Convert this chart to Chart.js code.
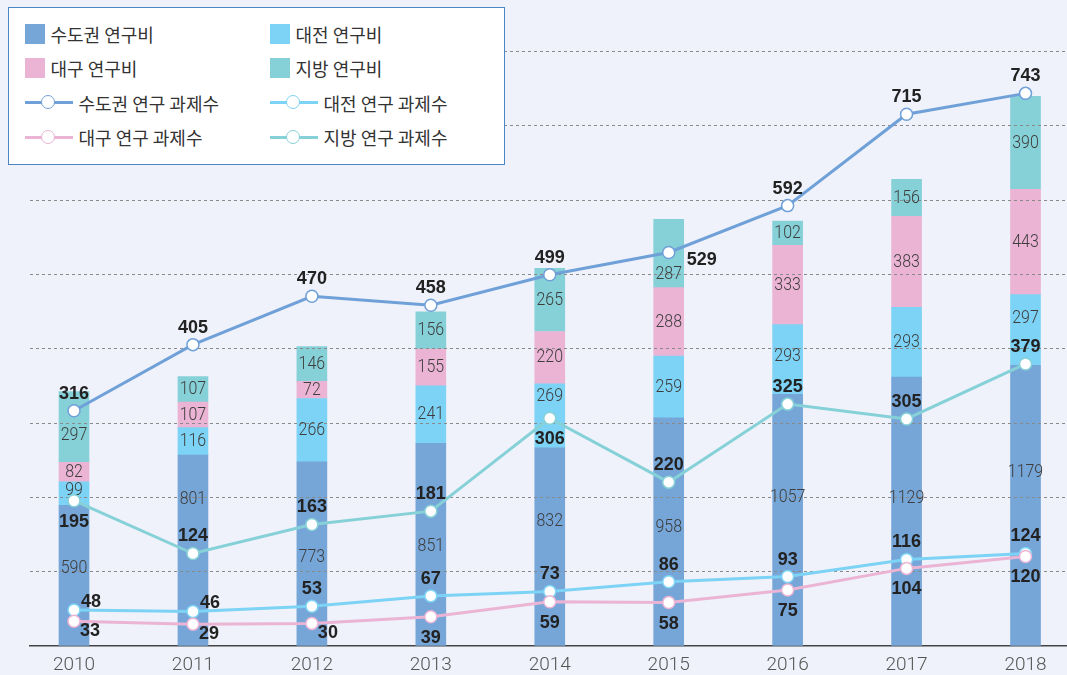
<!DOCTYPE html>
<html><head><meta charset="utf-8">
<script src="https://cdn.jsdelivr.net/npm/chart.js@4"></script>
<style>
html,body{margin:0;padding:0;background:#eff2fa;overflow:hidden}
#wrap{position:relative;width:1075px;height:675px}
#legend{position:absolute;left:8px;top:7px;width:497px;height:158px;background:#fff;border:1.5px solid #4a86c5;box-sizing:border-box;font-family:"Noto Sans CJK KR","Noto Sans",sans-serif;font-size:18px;color:#333}
.item{position:absolute;display:flex;align-items:center;height:24px;white-space:nowrap}
.sw{width:20px;height:20px;margin-right:6px;flex:none}
.ln{position:relative;width:48px;height:3px;margin-right:6px;flex:none}
.ln i{position:absolute;left:16.5px;top:-6px;width:12px;height:12px;border-radius:50%;background:#fff;border:1.5px solid}
</style></head>
<body>
<div id="wrap"><canvas id="c"></canvas><div id="legend"></div></div>
<script>
// ---- data ----
const years = [2010, 2011, 2012, 2013, 2014, 2015, 2016, 2017, 2018];
const capitalFunds  = [590, 801, 773, 851, 832, 958, 1057, 1129, 1179];
const daejeonFunds  = [99, 116, 266, 241, 269, 259, 293, 293, 297];
const daeguFunds    = [82, 107, 72, 155, 220, 288, 333, 383, 443];
const regionalFunds = [297, 107, 146, 156, 265, 287, 102, 156, 390];
const capitalProjects  = [316, 405, 470, 458, 499, 529, 592, 715, 743];
const daejeonProjects  = [48, 46, 53, 67, 73, 86, 93, 116, 124];
const daeguProjects    = [33, 29, 30, 39, 59, 58, 75, 104, 120];
const regionalProjects = [195, 124, 163, 181, 306, 220, 325, 305, 379];

// ---- styling (label placement) ----
const segLabelFrac = [
  [0.55, 0.77, 0.48, 0.49, 0.63, 0.52, 0.59, 0.55, 0.62],
  [0.65, 0.5, 0.5, 0.5, 0.8, 0.5, 0.55, 0.5, 0.66],
  [0.5, 0.5, 0.5, 0.5, 0.5, 0.5, 0.5, 0.5, 0.5],
  [0.38, 0.5, 0.5, 0.5, 0.5, 0.2, 0.5, 0.5, 0.5]
];
const linePlace = [
  ['up','up','up','up','up','right','up','up','up'],
  ['upright','upright','up','up','up','up','up','up','up'],
  ['downright','downright','downright','down','down','down','down','down','down'],
  ['down','up','up','up','down','up','up','up','up']
];
const placeOffset = {
  up: [0, -17], down: [0, 21], right: [33, 8], upright: [17, -8], downright: [16, 10]
};

const C = {
  blue: '#76a5d7', sky: '#7dd3f5', pink: '#ebb4d4', teal: '#86d1d8', blueLine: '#6fa0d8'
};

const barSets = [
  {label: '수도권 연구비', data: capitalFunds, color: C.blue},
  {label: '대전 연구비', data: daejeonFunds, color: C.sky},
  {label: '대구 연구비', data: daeguFunds, color: C.pink},
  {label: '지방 연구비', data: regionalFunds, color: C.teal}
];
const lineSets = [
  {label: '수도권 연구 과제수', data: capitalProjects, color: C.blueLine, order: 0},
  {label: '대전 연구 과제수', data: daejeonProjects, color: C.sky, order: 0},
  {label: '대구 연구 과제수', data: daeguProjects, color: C.pink, order: -1},
  {label: '지방 연구 과제수', data: regionalProjects, color: C.teal, order: 0}
];

const datasets = [];
barSets.forEach(s => datasets.push({
  type: 'bar', label: s.label, data: s.data, backgroundColor: s.color,
  yAxisID: 'y', barThickness: 30, order: 1, borderWidth: 0
}));
lineSets.forEach(s => datasets.push({
  type: 'line', label: s.label, data: s.data, borderColor: s.color, borderWidth: 3,
  pointBackgroundColor: '#fff', pointBorderColor: s.color, pointBorderWidth: 1.5,
  pointRadius: 6, yAxisID: 'y2', order: s.order, tension: 0, clip: false, fill: false
}));

function drawCondensed(ctx, text, x, y, sx) {
  ctx.save(); ctx.translate(x, y); ctx.scale(sx, 1); ctx.fillText(text, 0, 0); ctx.restore();
}

const labelPlugin = {
  id: 'labelPlugin',
  beforeDraw(chart) { chart.$gridDone = false; },
  beforeDatasetDraw(chart, args) {
    if (args.meta.type !== 'line' || chart.$gridDone) return;
    chart.$gridDone = true;
    const ctx = chart.ctx, ca = chart.chartArea, s = chart.scales.y2;
    ctx.save();
    ctx.strokeStyle = '#8a8a8a'; ctx.lineWidth = 1; ctx.setLineDash([3, 3]);
    s.ticks.forEach(t => {
      if (t.value === 0) return;
      const y = Math.round(s.getPixelForValue(t.value)) + 0.5;
      ctx.beginPath(); ctx.moveTo(ca.left, y); ctx.lineTo(ca.right, y); ctx.stroke();
    });
    ctx.restore();
    // segment labels
    ctx.save();
    ctx.font = '300 19px Roboto, "Liberation Sans", sans-serif';
    ctx.fillStyle = '#3d3d3d'; ctx.textAlign = 'center'; ctx.textBaseline = 'middle';
    barSets.forEach((bs, i) => {
      const meta = chart.getDatasetMeta(i);
      meta.data.forEach((el, j) => {
        const y = el.base - segLabelFrac[i][j] * (el.base - el.y);
        drawCondensed(ctx, String(bs.data[j]), el.x, y, 0.84);
      });
    });
    ctx.restore();
  },
  afterDatasetsDraw(chart) {
    const ctx = chart.ctx;
    ctx.save();
    ctx.font = 'bold 18px "Liberation Sans", Arial, sans-serif';
    ctx.fillStyle = '#222'; ctx.textAlign = 'center'; ctx.textBaseline = 'middle';
    lineSets.forEach((ls, k) => {
      const meta = chart.getDatasetMeta(barSets.length + k);
      meta.data.forEach((pt, j) => {
        const off = placeOffset[linePlace[k][j]];
        ctx.fillText(String(ls.data[j]), pt.x + off[0], pt.y + off[1]);
      });
    });
    ctx.restore();
  }
};

const chart = new Chart(document.getElementById('c'), {
  type: 'bar',
  data: { labels: years, datasets },
  options: {
    responsive: true, maintainAspectRatio: false, animation: false,
    layout: { padding: { left: 30, right: 0, top: 51, bottom: -9.5 } },
    plugins: { legend: { display: false }, tooltip: { enabled: false } },
    scales: {
      x: {
        type: 'linear', stacked: true, min: 2009.63, max: 2018.353, offset: false,
        grid: { display: false, drawTicks: false, offset: false },
        border: { display: true, color: '#444', width: 1.5 },
        ticks: {
          stepSize: 1, includeBounds: false, padding: 8, color: '#555',
          font: { family: 'Roboto', size: 19, weight: '300' },
          callback: v => String(v)
        }
      },
      y: { stacked: true, min: 0, max: 2500, display: false },
      y2: {
        position: 'left', min: 0, max: 800,
        ticks: { display: false, stepSize: 100 },
        grid: { display: false, drawTicks: false },
        border: { display: false }
      }
    }
  },
  plugins: [labelPlugin]
});

// HTML legend built from datasets
const lg = document.getElementById('legend');
datasets.forEach((d, k) => {
  const row = Math.floor(k / 2), col = k % 2;
  const it = document.createElement('div');
  it.className = 'item';
  it.style.top = (13.5 + row * 34.5) + 'px';
  it.style.left = (col ? 260.5 : 15.5) + 'px';
  if (d.type === 'bar') {
    it.innerHTML = '<span class="sw" style="background:' + d.backgroundColor + '"></span>';
  } else {
    it.innerHTML = '<span class="ln" style="background:' + d.borderColor + '"><i style="border-color:' + d.borderColor + '"></i></span>';
  }
  const t = document.createElement('span'); t.textContent = d.label; it.appendChild(t);
  lg.appendChild(it);
});
</script>
</body></html>
